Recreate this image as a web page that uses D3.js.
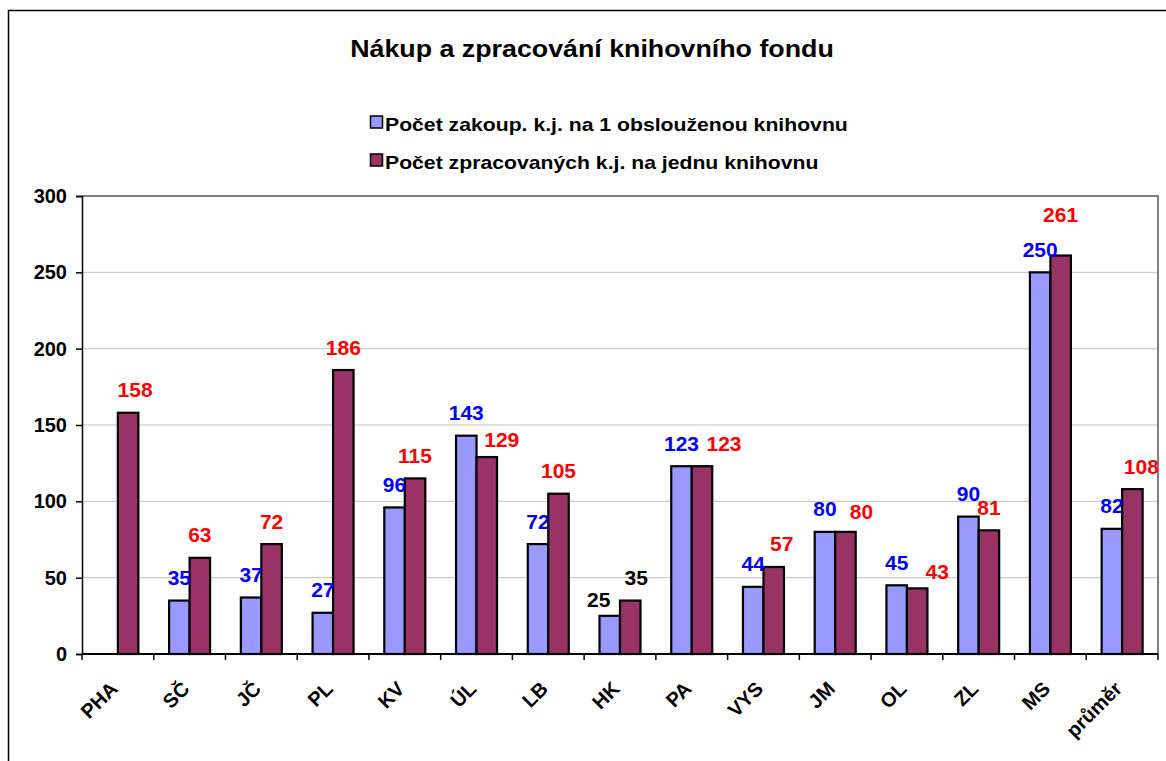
<!DOCTYPE html>
<html>
<head>
<meta charset="utf-8">
<script src="https://cdn.jsdelivr.net/npm/d3@7"></script>
<style>
  body { margin: 0; background: #fff; }
  svg text { font-family: "Liberation Sans", Arial, sans-serif; font-weight: bold; }
</style>
</head>
<body>
<div id="chart"></div>
<script>
// Chart data
const categories = ["PHA", "SČ", "JČ", "PL", "KV", "ÚL", "LB", "HK", "PA", "VYS", "JM", "OL", "ZL", "MS", "průměr"];
const bought = [null, 35, 37, 27, 96, 143, 72, 25, 123, 44, 80, 45, 90, 250, 82];
const processed = [158, 63, 72, 186, 115, 129, 105, 35, 123, 57, 80, 43, 81, 261, 108];
const seriesNames = ["Počet zakoup. k.j. na 1 obslouženou knihovnu", "Počet zpracovaných k.j. na jednu knihovnu"];
const yTicks = [0, 50, 100, 150, 200, 250, 300];

// Manual label nudges as in the original (px), [dx, dy]
const labelNudge = [
    { 7: [-11, 7] },
    { 0: [7, 0], 5: [15, 5], 7: [6, 0], 8: [22, 0], 9: [8, 0], 10: [16, 3], 11: [20, 6], 13: [0, -18], 14: [9, 0] }
];

const colors = ["#9999FF", "#993366"];
const labelColors = ["#0000FF", "#FF0000"];

const width = 1166, height = 761;
const margin = { top: 196, right: 8, bottom: 107, left: 82 };
const stretch = 1.165; // original text is a little wider than Arial

const svg = d3.select("#chart").append("svg")
    .attr("width", width)
    .attr("height", height);

// Outer chart border (runs off the page on right and bottom)
svg.append("rect")
    .attr("x", 8.5).attr("y", 10.5)
    .attr("width", width + 20).attr("height", height + 20)
    .attr("fill", "none").attr("stroke", "#000").attr("stroke-width", 1.5);

// Title
svg.append("text")
    .attr("transform", `translate(592, 57) scale(${stretch}, 1)`)
    .attr("text-anchor", "middle")
    .attr("font-size", "23px")
    .text("Nákup a zpracování knihovního fondu");

// Legend
const legend = svg.append("g").attr("transform", "translate(370, 0)");
seriesNames.forEach((name, i) => {
    const g = legend.append("g").attr("transform", `translate(0, ${122 + i * 38})`);
    g.append("rect")
        .attr("x", 0.5).attr("y", -6)
        .attr("width", 12).attr("height", 12)
        .attr("fill", colors[i]).attr("stroke", "#000").attr("stroke-width", 1.5);
    g.append("text")
        .attr("transform", `translate(15, 9) scale(${stretch}, 1)`)
        .attr("font-size", "18.2px")
        .text(name);
});

// Scales
const x0 = d3.scaleBand()
    .domain(categories)
    .range([margin.left, width - margin.right])
    .paddingInner(0.4286)
    .paddingOuter(0.2143);

const x1 = d3.scaleBand()
    .domain([0, 1])
    .range([0, x0.bandwidth()]);

const y = d3.scaleLinear()
    .domain([0, 300])
    .range([height - margin.bottom, margin.top]);

const plotLeft = margin.left, plotRight = width - margin.right;

// Gridlines
svg.append("g")
    .selectAll("line")
    .data(yTicks.slice(1, -1))
    .enter().append("line")
    .attr("x1", plotLeft).attr("x2", plotRight)
    .attr("y1", d => y(d)).attr("y2", d => y(d))
    .attr("stroke", "#C0C0C0").attr("stroke-width", 1);

// Plot area top and right border (grey)
svg.append("path")
    .attr("d", `M${plotLeft},${y(300)}H${plotRight}V${y(0)}`)
    .attr("fill", "none").attr("stroke", "#808080").attr("stroke-width", 2);

// Bars
const series = [bought, processed];
series.forEach((vals, s) => {
    svg.append("g")
        .selectAll("rect")
        .data(vals.map((v, i) => ({ v, i })).filter(d => d.v !== null))
        .enter().append("rect")
        .attr("x", d => x0(categories[d.i]) + x1(s))
        .attr("y", d => y(d.v))
        .attr("width", x1.bandwidth())
        .attr("height", d => y(0) - y(d.v))
        .attr("fill", colors[s])
        .attr("stroke", "#000")
        .attr("stroke-width", 2.2);
});

// Y axis
const yAxis = svg.append("g")
    .attr("transform", `translate(${plotLeft}, 0)`)
    .call(d3.axisLeft(y).tickValues(yTicks).tickSize(6).tickPadding(9));
yAxis.select(".domain").attr("stroke", "#000").attr("stroke-width", 1.5);
yAxis.selectAll(".tick line").attr("stroke", "#000").attr("stroke-width", 1.5);
yAxis.selectAll(".tick text")
    .attr("font-size", "20px")
    .attr("fill", "#000")
    .attr("font-family", "Liberation Sans, Arial, sans-serif")
    .attr("font-weight", "bold");

// X axis line and ticks at category boundaries
const xg = svg.append("g");
xg.append("line")
    .attr("x1", plotLeft).attr("x2", plotRight)
    .attr("y1", y(0)).attr("y2", y(0))
    .attr("stroke", "#000").attr("stroke-width", 2);
xg.selectAll(".xtick")
    .data(d3.range(categories.length + 1))
    .enter().append("line")
    .attr("class", "xtick")
    .attr("x1", i => plotLeft + i * x0.step())
    .attr("x2", i => plotLeft + i * x0.step())
    .attr("y1", y(0)).attr("y2", y(0) + 6)
    .attr("stroke", "#000").attr("stroke-width", 1.5);

// X labels rotated 45 degrees
xg.selectAll(".xlabel")
    .data(categories)
    .enter().append("text")
    .attr("class", "xlabel")
    .attr("text-anchor", "end")
    .attr("font-size", "20px")
    .attr("transform", d => `translate(${x0(d) + x0.bandwidth() / 2 + 1}, ${y(0) + 36}) rotate(-45)`)
    .text(d => d);

// Data labels
series.forEach((vals, s) => {
    svg.append("g")
        .selectAll("text")
        .data(vals.map((v, i) => ({ v, i })).filter(d => d.v !== null))
        .enter().append("text")
        .attr("text-anchor", "middle")
        .attr("font-size", "21px")
        .attr("fill", d => categories[d.i] === "HK" ? "#000" : labelColors[s])
        .attr("x", d => x0(categories[d.i]) + x1(s) + x1.bandwidth() / 2 + ((labelNudge[s][d.i] || [0, 0])[0]))
        .attr("y", d => y(d.v) - 15.5 + ((labelNudge[s][d.i] || [0, 0])[1]))
        .text(d => d.v);
});
</script>
</body>
</html>
